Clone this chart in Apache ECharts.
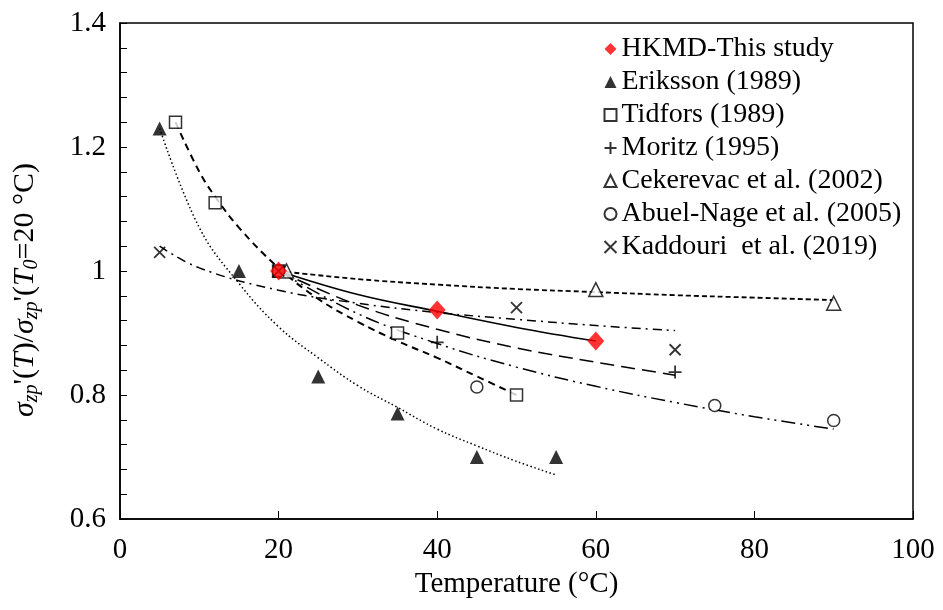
<!DOCTYPE html>
<html>
<head>
<meta charset="utf-8">
<script src="https://cdn.jsdelivr.net/npm/echarts@6/dist/echarts.min.js"></script>
<style>html,body{margin:0;padding:0;background:#fff}#c{width:943px;height:610px}</style>
</head>
<body>
<div id="c"></div>
<script>
// ---- Data ----
var xTicks = [0, 20, 40, 60, 80, 100];
var yTicks = [0.6, 0.8, 1.0, 1.2, 1.4];

var hkmdPts = [[20, 1.0], [40, 0.937], [60, 0.887]];
var erikssonPts = [[5, 1.23], [15, 1.0], [20, 1.0], [25, 0.83], [35, 0.77], [45, 0.70], [55, 0.70]];
var tidforsPts = [[7, 1.24], [12, 1.11], [20, 1.0], [35, 0.90], [50, 0.80]];
var moritzPts = [[20, 1.0], [40, 0.885], [70, 0.837]];
var cekerevacPts = [[21, 1.0], [60, 0.97], [90, 0.948]];
var abuelPts = [[20, 1.0], [45, 0.813], [75, 0.783], [90, 0.759]];
var kaddouriPts = [[5, 1.03], [20, 1.0], [50, 0.941], [70, 0.873]];

// trend curves
var hkmdTrend = [[20, 1.0], [30, 0.962], [40, 0.935], [50, 0.909], [60, 0.887]];
var erikssonTrend = [[5, 1.23], [10, 1.07], [15, 0.98], [20, 0.91], [25, 0.86], [30, 0.815], [35, 0.78], [40, 0.745], [45, 0.718], [50, 0.693], [55, 0.671]];
var tidforsTrend = [[7, 1.24], [10, 1.16], [12, 1.12], [15, 1.07], [20, 1.005], [25, 0.955], [30, 0.918], [35, 0.887], [40, 0.86], [45, 0.83], [50, 0.80]];
var moritzTrend = [[20, 1.0], [30, 0.945], [40, 0.906], [50, 0.876], [60, 0.853], [70, 0.832]];
var cekerevacTrend = [[20, 1.0], [30, 0.987], [40, 0.978], [50, 0.971], [60, 0.966], [70, 0.961], [80, 0.957], [90, 0.953]];
var abuelTrend = [[20, 1.0], [30, 0.931], [40, 0.883], [50, 0.845], [60, 0.814], [70, 0.788], [80, 0.765], [90, 0.745]];
var kaddouriTrend = [[5, 1.04], [10, 1.005], [20, 0.969], [30, 0.948], [40, 0.933], [50, 0.922], [60, 0.912], [70, 0.904]];

var names = ['HKMD-This study', 'Eriksson (1989)', 'Tidfors (1989)', 'Moritz (1995)',
  'Cekerevac et al. (2002)', 'Abuel-Nage et al. (2005)', 'Kaddouri  et al. (2019)'];

var FONT = '"Liberation Serif", "Times New Roman", serif';
var PLUS = 'path://M5,0 L5,10 M0,5 L10,5';
var CROSS = 'path://M0,0 L10,10 M10,0 L0,10';

function trend(data, dash, width) {
  return {
    type: 'line', data: data, smooth: 0.4, symbol: 'none', silent: true, z: 2,
    lineStyle: { color: '#000', width: width || 1.5, type: dash }
  };
}
function pts(name, data, symbol, size, style, z) {
  return {
    type: 'scatter', name: name, data: data, symbol: symbol, symbolSize: size, z: z || 5,
    itemStyle: style
  };
}
var open = { color: '#fff', borderColor: '#000', borderWidth: 1.5 };
var stroke = { color: 'none', borderColor: '#000', borderWidth: 1.8 };

var chart = echarts.init(document.getElementById('c'), null, { renderer: 'canvas' });
chart.setOption({
  animation: false,
  backgroundColor: '#fff',
  grid: { left: 118, right: 30, top: 23, bottom: 91, show: true, borderColor: '#000', borderWidth: 1.5 },
  legend: {
    orient: 'vertical', left: 597, top: 30, itemGap: 5, itemWidth: 12, itemHeight: 12,
    data: names, selectedMode: false,
    textStyle: { fontFamily: FONT, fontSize: 28, color: '#000' }
  },
  xAxis: {
    type: 'value', min: xTicks[0], max: xTicks[xTicks.length - 1], interval: 20,
    name: 'Temperature (°C)', nameLocation: 'middle', nameGap: 50,
    nameTextStyle: { fontFamily: FONT, fontSize: 29, color: '#000' },
    axisLine: { lineStyle: { color: '#000', width: 1.5 } },
    axisTick: { inside: true, length: 8, lineStyle: { color: '#000', width: 1 } },
    axisLabel: { fontFamily: FONT, fontSize: 29, color: '#000', margin: 17 },
    splitLine: { show: false }
  },
  yAxis: {
    type: 'value', min: yTicks[0], max: yTicks[yTicks.length - 1], interval: 0.2,
    name: '{i|σ}{s|zp}{n|\'(}{i|T}{n|)/}{i|σ}{s|zp}{n|\'(}{i|T}{s|0}{n|=20 °C)}',
    nameLocation: 'middle', nameGap: 78, nameRotate: 90,
    nameTextStyle: {
      padding: [0, 38, 0, 0],
      rich: {
        i: { fontFamily: FONT, fontSize: 30, fontStyle: 'italic', color: '#000', lineHeight: 34, verticalAlign: 'middle' },
        n: { fontFamily: FONT, fontSize: 30, color: '#000', lineHeight: 34, verticalAlign: 'middle' },
        s: { fontFamily: FONT, fontSize: 20, fontStyle: 'italic', color: '#000', lineHeight: 34, verticalAlign: 'bottom', padding: [14, 0, 0, 0] }
      }
    },
    axisLine: { lineStyle: { color: '#000', width: 1.5 } },
    axisTick: { inside: true, length: 7, lineStyle: { color: '#000', width: 1 } },
    minorTick: { show: true, splitNumber: 5, length: 7, lineStyle: { color: '#000', width: 1 } },
    axisLabel: {
      fontFamily: FONT, fontSize: 29, color: '#000', margin: 14,
      formatter: function (v) { return String(Math.round(v * 10) / 10); }
    },
    splitLine: { show: false }
  },
  series: [
    trend(hkmdTrend, 'solid', 1.6),
    trend(erikssonTrend, [1.5, 2.5], 1.5),
    trend(tidforsTrend, [7, 5], 2),
    trend(moritzTrend, [14, 7], 1.5),
    trend(cekerevacTrend, [5, 3], 1.8),
    trend(abuelTrend, [14, 5, 2, 5, 2, 5], 1.5),
    trend(kaddouriTrend, [9, 5, 2, 5], 1.5),
    pts(names[1], erikssonPts, 'triangle', 14, { color: '#000' }),
    pts(names[2], tidforsPts, 'rect', 12, open),
    pts(names[3], moritzPts, PLUS, 13, stroke),
    pts(names[4], cekerevacPts, 'triangle', 14, open),
    pts(names[5], abuelPts, 'circle', 12, open),
    pts(names[6], kaddouriPts, CROSS, 11, stroke),
    pts(names[0], hkmdPts, 'diamond', [17, 19], { color: '#ff0000' }, 8)
  ]
});
</script>
</body>
</html>
